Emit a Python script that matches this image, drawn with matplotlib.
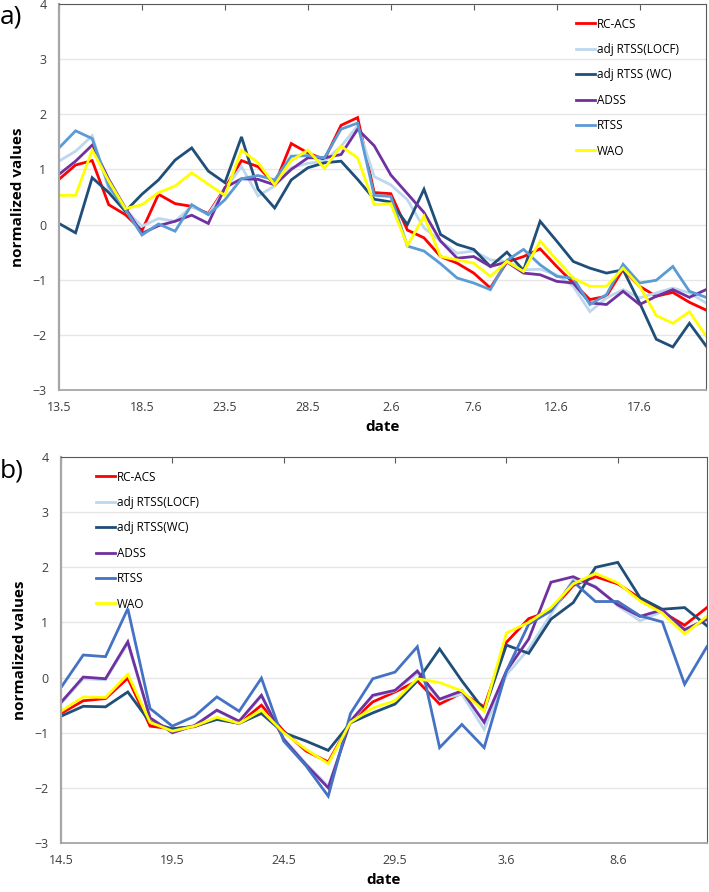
import numpy as np
import pandas as pd
import matplotlib
matplotlib.use('Agg')
import matplotlib.pyplot as plt

plt.rcParams['font.family'] = ['Open Sans', 'DejaVu Sans']

# panel a) daily values, 13.5 - 21.6
dates_a = pd.date_range('2020-05-13', periods=40)
rcacs_a = [0.82, 1.08, 1.16, 0.36, 0.18, -0.11, 0.55, 0.38, 0.33, 0.20,
           0.66, 1.16, 1.05, 0.73, 1.47, 1.30, 1.18, 1.80, 1.94, 0.58,
           0.56, -0.10, -0.24, -0.58, -0.70, -0.88, -1.15, -0.68, -0.58, -0.44,
           -0.76, -1.06, -1.36, -1.30, -0.81, -1.12, -1.30, -1.23, -1.41, -1.55]
locf_a = [1.15, 1.33, 1.61, 0.64, 0.27, -0.03, 0.11, 0.06, 0.33, 0.18,
          0.64, 1.05, 0.52, 0.70, 1.03, 1.11, 1.15, 1.42, 1.79, 0.87,
          0.72, 0.45, -0.06, -0.30, -0.52, -0.48, -0.64, -0.67, -0.82, -0.81,
          -0.91, -1.12, -1.58, -1.33, -1.18, -1.33, -1.24, -1.15, -1.24, -1.42]
wc_a = [0.02, -0.15, 0.85, 0.58, 0.24, 0.55, 0.81, 1.17, 1.39, 0.97,
        0.76, 1.59, 0.64, 0.30, 0.81, 1.03, 1.12, 1.15, 0.82, 0.46,
        0.41, 0.00, 0.64, -0.18, -0.36, -0.45, -0.76, -0.50, -0.83, 0.06,
        -0.30, -0.67, -0.79, -0.88, -0.82, -1.42, -2.08, -2.22, -1.79, -2.20]
adss_a = [0.91, 1.15, 1.44, 0.82, 0.30, -0.16, -0.02, 0.06, 0.17, 0.02,
          0.67, 0.83, 0.82, 0.72, 1.00, 1.21, 1.21, 1.27, 1.73, 1.43,
          0.90, 0.56, 0.22, -0.30, -0.61, -0.58, -0.76, -0.68, -0.88, -0.91,
          -1.03, -1.06, -1.42, -1.45, -1.21, -1.45, -1.30, -1.18, -1.32, -1.18]
rtss_a = [1.39, 1.70, 1.56, 0.70, 0.27, -0.19, 0.01, -0.12, 0.36, 0.18,
          0.45, 0.83, 0.89, 0.81, 1.24, 1.25, 1.21, 1.73, 1.84, 0.53,
          0.51, -0.39, -0.48, -0.71, -0.97, -1.06, -1.18, -0.65, -0.45, -0.73,
          -0.94, -0.97, -1.45, -1.27, -0.72, -1.06, -1.01, -0.76, -1.21, -1.32]
wao_a = [0.53, 0.53, 1.35, 0.79, 0.29, 0.36, 0.58, 0.70, 0.94, 0.73,
         0.53, 1.35, 1.12, 0.72, 1.16, 1.35, 1.02, 1.42, 1.21, 0.36,
         0.38, -0.38, 0.15, -0.58, -0.64, -0.70, -0.94, -0.67, -0.85, -0.30,
         -0.64, -0.97, -1.12, -1.12, -0.79, -1.12, -1.65, -1.79, -1.58, -2.02]

# panel b) daily values, 14.5 - 12.6
dates_b = pd.date_range('2020-05-14', periods=30)
rcacs_b = [-0.65, -0.42, -0.38, -0.01, -0.88, -0.93, -0.89, -0.74, -0.83, -0.50,
           -0.97, -1.33, -1.53, -0.81, -0.44, -0.26, -0.06, -0.48, -0.28, -0.53,
           0.64, 1.07, 1.21, 1.67, 1.83, 1.70, 1.44, 1.19, 0.95, 1.27]
locf_b = [-0.47, -0.02, -0.04, 0.62, -0.74, -0.98, -0.86, -0.60, -0.80, -0.34,
          -1.10, -1.56, -1.97, -0.80, -0.34, -0.24, 0.08, -0.40, -0.30, -0.94,
          0.05, 0.52, 1.15, 1.78, 1.66, 1.30, 1.03, 1.20, 0.85, 1.04]
wc_b = [-0.70, -0.52, -0.53, -0.26, -0.81, -0.93, -0.88, -0.76, -0.83, -0.65,
        -1.00, -1.15, -1.32, -0.82, -0.64, -0.48, -0.06, 0.52, -0.06, -0.59,
        0.59, 0.44, 1.06, 1.36, 2.00, 2.09, 1.45, 1.24, 1.27, 0.94]
adss_b = [-0.45, 0.01, -0.02, 0.65, -0.73, -1.00, -0.87, -0.59, -0.79, -0.32,
          -1.12, -1.58, -2.00, -0.79, -0.32, -0.23, 0.12, -0.39, -0.24, -0.81,
          0.12, 0.70, 1.73, 1.83, 1.64, 1.32, 1.11, 1.23, 0.87, 1.06]
rtss_b = [-0.18, 0.41, 0.38, 1.25, -0.56, -0.88, -0.70, -0.35, -0.61, -0.01,
          -1.15, -1.60, -2.15, -0.65, -0.02, 0.10, 0.56, -1.27, -0.85, -1.27,
          0.12, 0.97, 1.21, 1.74, 1.38, 1.38, 1.12, 1.01, -0.12, 0.56]
wao_b = [-0.61, -0.35, -0.36, 0.06, -0.81, -0.97, -0.88, -0.72, -0.83, -0.59,
         -1.00, -1.30, -1.56, -0.81, -0.55, -0.42, -0.02, -0.09, -0.24, -0.61,
         0.81, 1.00, 1.27, 1.70, 1.89, 1.72, 1.39, 1.17, 0.79, 1.11]

colors_a = ['#FF0000', '#BDD7EE', '#1F4E79', '#7030A0', '#5B9BD5', '#FFFF00']
colors_b = ['#FF0000', '#BDD7EE', '#1F4E79', '#7030A0', '#4472C4', '#FFFF00']
names_a = ['RC-ACS', 'adj RTSS(LOCF)', 'adj RTSS (WC)', 'ADSS', 'RTSS', 'WAO']
names_b = ['RC-ACS', 'adj RTSS(LOCF)', 'adj RTSS(WC)', 'ADSS', 'RTSS', 'WAO']


def panel(ax, dates, series, names, colors, leg_anchor):
    x = np.arange(len(dates))
    for s, n, c in zip(series, names, colors):
        ax.plot(x, s, color=c, lw=2.0, label=n, solid_joinstyle='miter')
    ax.set_xlim(0, len(dates) - 1)
    ax.set_ylim(-3, 4)
    ax.set_yticks(range(-3, 5))
    ax.set_xticks(x[::5])
    ax.set_xticklabels([f'{d.day}.{d.month}' for d in dates[::5]])
    ax.grid(axis='y', color='#E6E6E6', lw=1)
    ax.set_axisbelow(True)
    ax.tick_params(axis='y', length=0, pad=9, labelsize=9, labelcolor='#404040')
    ax.tick_params(axis='x', top=True, bottom=False, direction='in', length=4,
                   color='#595959', pad=8, labelsize=9, labelcolor='#404040')
    ax.spines['left'].set_color('#A6A6A6')
    ax.spines['left'].set_linewidth(1.6)
    ax.spines['bottom'].set_color('#A6A6A6')
    ax.spines['bottom'].set_linewidth(1.3)
    ax.spines['top'].set_color('#595959')
    ax.spines['right'].set_color('#595959')
    ax.set_ylabel('normalized values', fontsize=11, fontweight='bold', labelpad=5)
    ax.set_xlabel('date', fontsize=11, fontweight='bold', labelpad=4)
    ax.legend(loc='upper left', bbox_to_anchor=leg_anchor, frameon=False,
              fontsize=8.5, handlelength=1.6, handletextpad=0.15,
              labelspacing=1.05, borderaxespad=0, borderpad=0)


fig = plt.figure(figsize=(7.09, 8.92), dpi=100)
ax1 = fig.add_axes([0.0832, 0.5628, 0.9126, 0.4327])
ax2 = fig.add_axes([0.0860, 0.0549, 0.9110, 0.4327])

panel(ax1, dates_a, [rcacs_a, locf_a, wc_a, adss_a, rtss_a, wao_a],
      names_a, colors_a, (0.799, 0.965))
panel(ax2, dates_b, [rcacs_b, locf_b, wc_b, adss_b, rtss_b, wao_b],
      names_b, colors_b, (0.054, 0.965))

fig.text(0.0, 0.981, 'a)', fontsize=19, va='center', ha='left')
fig.text(0.0, 0.472, 'b)', fontsize=19, va='center', ha='left')

fig.savefig('out.png', dpi=100)
